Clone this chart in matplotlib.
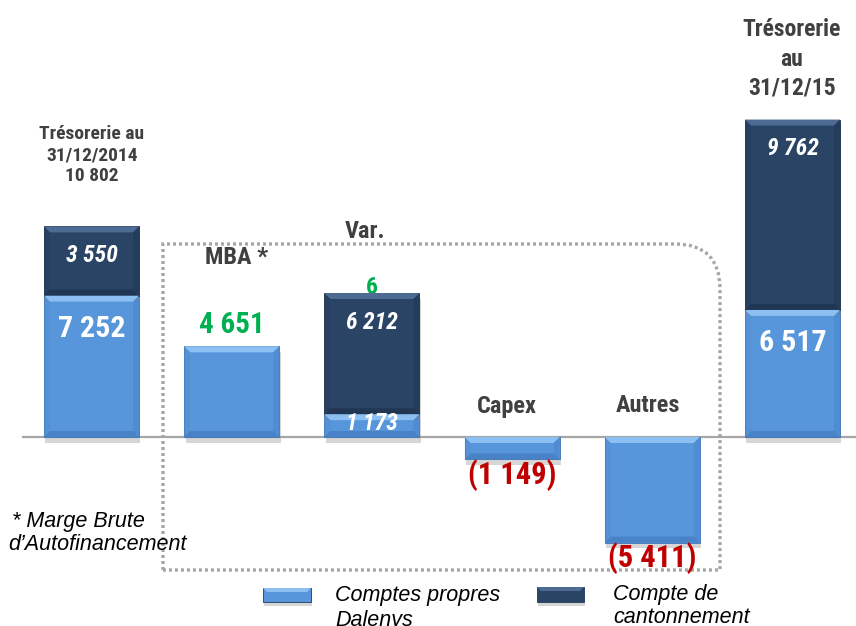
import matplotlib
matplotlib.use("Agg")
import matplotlib.pyplot as plt
import matplotlib.patheffects as pe
from matplotlib.patches import Polygon, PathPatch, Rectangle
from matplotlib.path import Path

# ---- data ----
steps = ["Trésorerie au 31/12/2014", "MBA *", "Var.", "Capex", "Autres", "Trésorerie au 31/12/15"]
propres = [7252, 4651, 1173, -1149, -5411, 6517]      # Comptes propres Dalenys
cantonnement = [3550, 0, 6212, 0, 0, 9762]            # Compte de cantonnement
label_propres = ["7 252", "4 651", "1 173", "(1 149)", "(5 411)", "6 517"]
label_canton = ["3 550", "", "6 212", "", "", "9 762"]

LIGHT = "#5896DC"
LIGHT_TOP = "#8CC0F2"
LIGHT_DARK = "#3F76B8"
DARK = "#2A4466"
DARK_TOP = "#4D6B93"
DARK_DARK = "#1B2E47"
GREEN = "#00B050"
RED = "#C00000"
GREY = "#404040"

NARROW = ["Roboto Condensed", "Archivo Narrow", "DejaVu Sans"]
plt.rcParams["font.family"] = ["Liberation Sans", "DejaVu Sans"]

W, H = 856, 626
fig = plt.figure(figsize=(W / 100, H / 100), dpi=100)

# pixel overlay for decorations (box, category titles, legend)
px = fig.add_axes([0, 0, 1, 1])
px.set_xlim(0, W)
px.set_ylim(H, 0)
px.axis("off")
px.set_zorder(0)

ax = fig.add_axes([0, 0, 1, 1])
ax.set_zorder(1)
ax.patch.set_visible(False)
ax.axis("off")
ax.set_xlim(-0.6526, 5.453)
ax.set_ylim(-9692, 22410)

BW = 0.678
BEV_X = 6 / 140.2
BEV_Y = 6 / 0.0195
shadow = [pe.SimplePatchShadow(offset=(1, -4), shadow_rgbFace="#8a8a8a", alpha=0.35), pe.Normal()]


def bevel_bar(x, bottom, height, face, top_col, dark_col, z=3):
    y0 = min(bottom, bottom + height)
    y1 = max(bottom, bottom + height)
    b = ax.bar(x, y1 - y0, BW, bottom=y0, color=face, edgecolor=dark_col, linewidth=0.6, zorder=z)
    b[0].set_path_effects(shadow)
    x0, x1 = x - BW / 2, x + BW / 2
    by = min(BEV_Y, (y1 - y0) / 2)
    ax.add_patch(Polygon([(x0, y1), (x1, y1), (x1 - BEV_X, y1 - by), (x0 + BEV_X, y1 - by)],
                         closed=True, facecolor=top_col, edgecolor="none", zorder=z + 0.1))
    ax.add_patch(Polygon([(x0, y0), (x1, y0), (x1 - BEV_X, y0 + by), (x0 + BEV_X, y0 + by)],
                         closed=True, facecolor=dark_col, edgecolor="none", alpha=0.6, zorder=z + 0.1))
    ax.add_patch(Polygon([(x1, y0), (x1, y1), (x1 - BEV_X, y1 - by), (x1 - BEV_X, y0 + by)],
                         closed=True, facecolor=dark_col, edgecolor="none", alpha=0.3, zorder=z + 0.1))
    ax.add_patch(Polygon([(x0, y0), (x0, y1), (x0 + BEV_X, y1 - by), (x0 + BEV_X, y0 + by)],
                         closed=True, facecolor=dark_col, edgecolor="none", alpha=0.15, zorder=z + 0.1))


xs = list(range(len(steps)))
for i in xs:
    bevel_bar(i, 0, propres[i], LIGHT, LIGHT_TOP, LIGHT_DARK)
    if cantonnement[i]:
        bevel_bar(i, propres[i], cantonnement[i], DARK, DARK_TOP, DARK_DARK)

ax.plot([-0.49, 5.453], [0, 0], color="#a6a6a6", lw=1.6, zorder=2)

# value labels
nb = dict(family=NARROW, fontweight="bold")
for i in xs:
    p = propres[i]
    c = cantonnement[i]
    if i in (0, 5):
        ax.annotate(label_propres[i], (i, p), xytext=(0, -24), textcoords="offset points",
                    ha="center", va="center", color="white", fontsize=21.5, zorder=6, **nb)
    elif i == 1:
        ax.annotate(label_propres[i], (i, p), xytext=(0, 15), textcoords="offset points",
                    ha="center", va="center", color=GREEN, fontsize=21, zorder=6, **nb)
    elif i == 2:
        ax.annotate(label_propres[i], (i, p), xytext=(0, -7), textcoords="offset points",
                    ha="center", va="center", color="white", fontsize=17, style="italic", zorder=6, **nb)
        # total of the step, hidden behind the bar top
        ax.annotate("6", (i, p + c), xytext=(0, 4), textcoords="offset points",
                    ha="center", va="center", color=GREEN, fontsize=17, zorder=2.5, **nb)
    else:
        ax.annotate(label_propres[i], (i, p), xytext=(0, -11), textcoords="offset points",
                    ha="center", va="center", color=RED, fontsize=22, zorder=6, **nb)
    if c:
        ax.annotate(label_canton[i], (i, p + c), xytext=(0, -21), textcoords="offset points",
                    ha="center", va="center", color="white", fontsize=17, style="italic", zorder=6, **nb)

# dotted box around the variations
r = 45
verts = [(163, 570), (163, 244), (720 - r, 244), (720, 244), (720, 244 + r), (720, 570), (163, 570)]
codes = [Path.MOVETO, Path.LINETO, Path.LINETO, Path.CURVE3, Path.CURVE3, Path.LINETO, Path.LINETO]
px.add_patch(PathPatch(Path(verts, codes), facecolor="none", edgecolor="#a6a6a6",
                       lw=2.4, linestyle=(0, (0.9, 0.9))))

# category titles
px.text(92, 155, "Trésorerie au\n31/12/2014\n10 802", ha="center", va="center", color=GREY,
        fontsize=14, linespacing=1.2, **nb)
px.text(792, 59, "Trésorerie\nau\n31/12/15", ha="center", va="center", color=GREY,
        fontsize=17, linespacing=1.35, **nb)
px.text(365, 232, "Var.", ha="center", va="center", color=GREY, fontsize=17.5, **nb)
px.text(237, 258, "MBA *", ha="center", va="center", color=GREY, fontsize=17.5, **nb)
px.text(507, 406, "Capex", ha="center", va="center", color=GREY, fontsize=17.5, **nb)
px.text(648, 406, "Autres", ha="center", va="center", color=GREY, fontsize=17.5, **nb)

# footnote
px.text(12, 527, "* Marge Brute", ha="left", va="baseline", color="black", fontsize=15.5, style="italic")
px.text(8, 550, "d\u2019Autofinancement", ha="left", va="baseline", color="black", fontsize=15.5, style="italic")

# legend
for (x0, x1, y0, y1, face, top) in [(263, 311, 588, 602, LIGHT, LIGHT_TOP), (537, 584, 587, 602, DARK, DARK_TOP)]:
    rect = Rectangle((x0, y0), x1 - x0, y1 - y0, facecolor=face, edgecolor="#1f3a5c", lw=0.6)
    rect.set_path_effects([pe.SimplePatchShadow(offset=(1, -3), shadow_rgbFace="#8a8a8a", alpha=0.35), pe.Normal()])
    px.add_patch(rect)
    px.add_patch(Polygon([(x0, y0), (x1, y0), (x1 - 4, y0 + 4), (x0 + 4, y0 + 4)], facecolor=top, edgecolor="none"))
px.text(335, 601, "Comptes propres", ha="left", va="baseline", fontsize=15.5, style="italic", color="black")
px.text(335, 626, "Dalenys", ha="left", va="baseline", fontsize=15.5, style="italic", color="black")
px.text(613, 600, "Compte de", ha="left", va="baseline", fontsize=15.5, style="italic", color="black")
px.text(613, 623, "cantonnement", ha="left", va="baseline", fontsize=15.5, style="italic", color="black")

fig.savefig("out.png", dpi=100)
